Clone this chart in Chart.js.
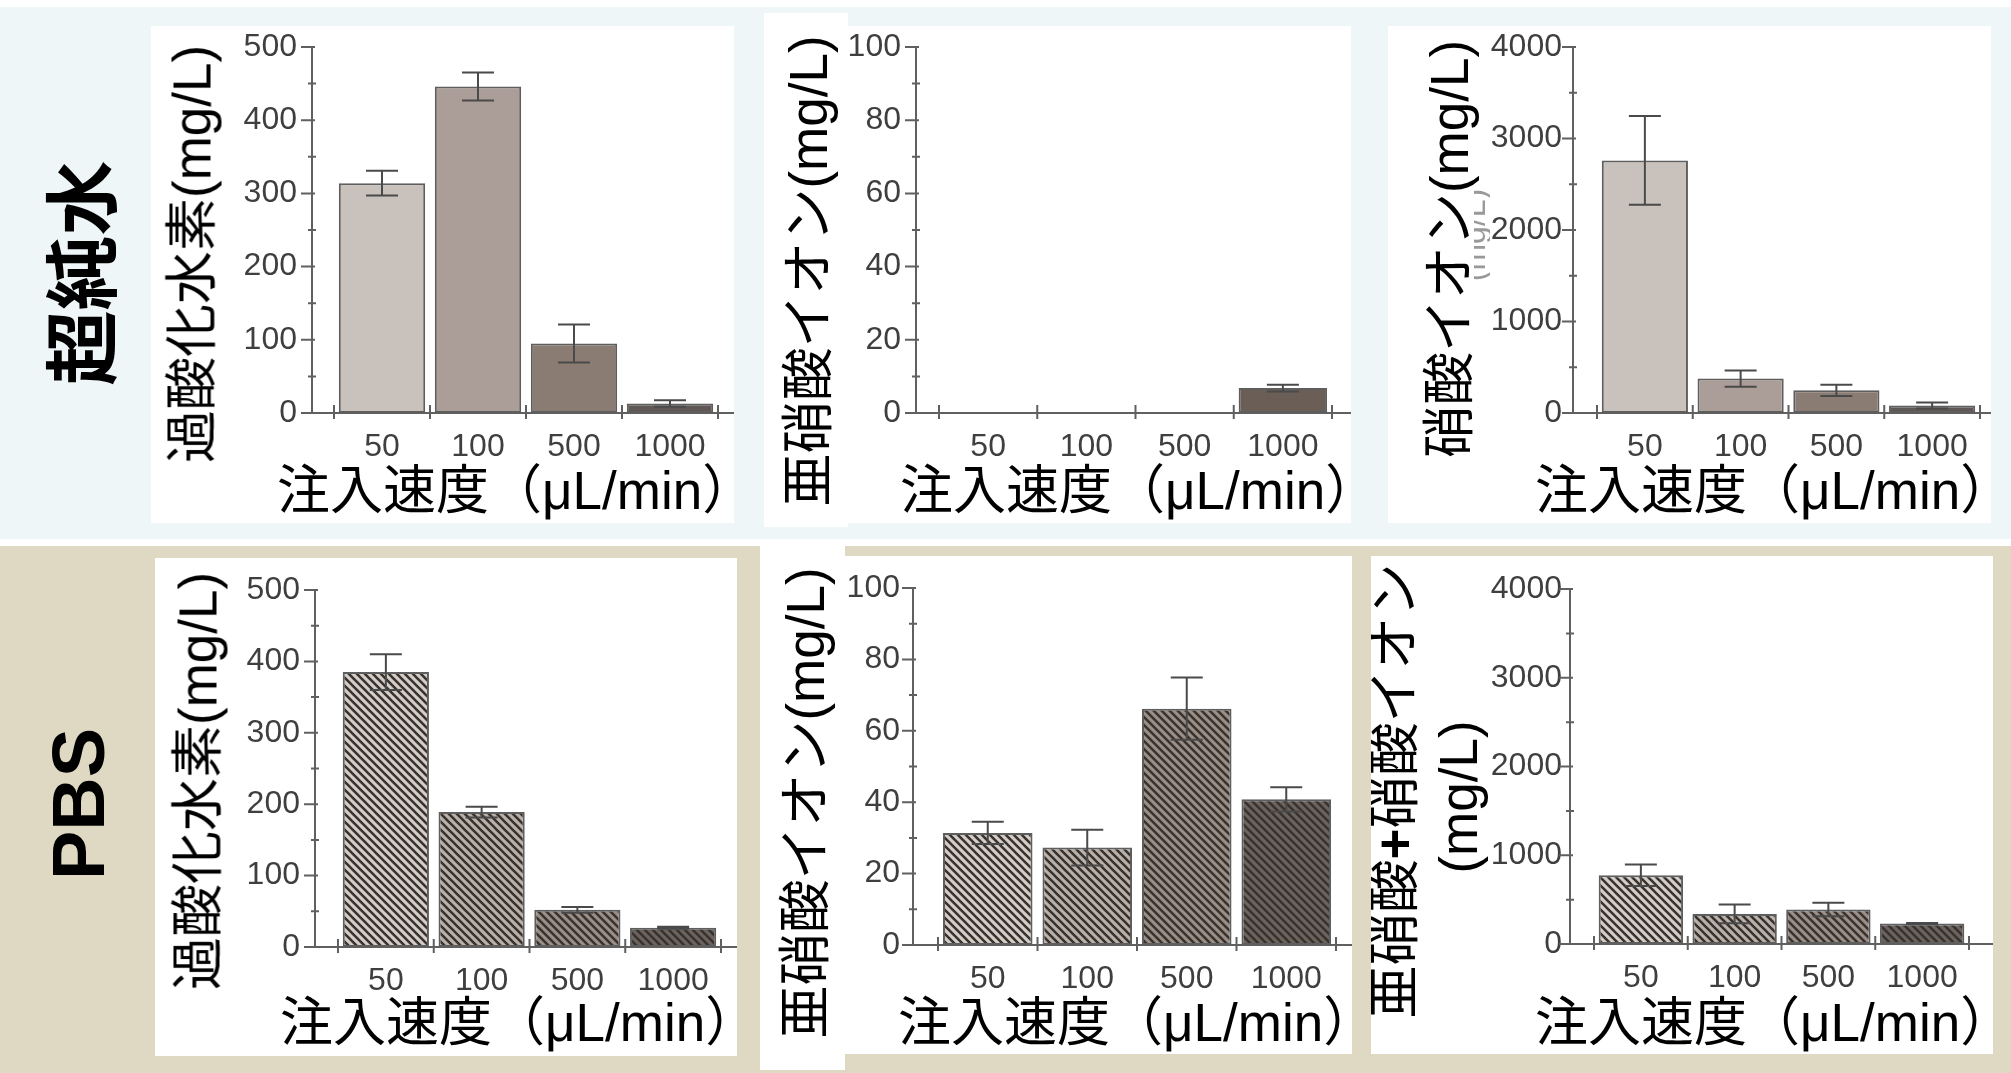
<!DOCTYPE html>
<html lang="ja">
<head>
<meta charset="utf-8">
<title>注入速度と生成濃度</title>
<script src="https://cdn.jsdelivr.net/npm/chart.js@4.4.1/dist/chart.umd.min.js"></script>
<style>
  html, body { margin: 0; padding: 0; }
  body { width: 2011px; height: 1073px; position: relative; overflow: hidden; background: #fff;
         font-family: "Liberation Sans", "Noto Sans CJK JP", sans-serif; }
  .bg, .box, canvas, .lbl, .clip { position: absolute; }
  .box { background: #fff; }
  .clip { overflow: hidden; }
  .lbl { white-space: nowrap; line-height: 1; color: #000; font-size: 53px; }
  .rot { transform: translate(-50%, -50%) rotate(-90deg); }
  .hx { transform: translateY(-50%); }
</style>
</head>
<body>
<div class="bg" style="left:0;top:7px;width:2011px;height:532px;background:#eef6f8"></div>
<div class="bg" style="left:0;top:546px;width:2011px;height:527px;background:#dfd9c4"></div>

<div class="box" style="left:151px;top:26px;width:583px;height:497px"></div>
<div class="box" style="left:764px;top:13px;width:84px;height:514px"></div>
<div class="box" style="left:848px;top:26px;width:503px;height:497px"></div>
<div class="box" style="left:1388px;top:26px;width:603px;height:497px"></div>
<div class="box" style="left:155px;top:558px;width:582px;height:498px"></div>
<div class="box" style="left:760px;top:546px;width:85px;height:524px"></div>
<div class="box" style="left:845px;top:556px;width:507px;height:498px"></div>
<div class="box" style="left:1371px;top:556px;width:622px;height:498px"></div>

<canvas id="c1" width="583" height="460" style="left:151px;top:20px"></canvas>
<canvas id="c2" width="521" height="460" style="left:830px;top:20px"></canvas>
<canvas id="c3" width="603" height="460" style="left:1388px;top:20px"></canvas>
<canvas id="c4" width="582" height="460" style="left:155px;top:552px"></canvas>
<canvas id="c5" width="525" height="460" style="left:827px;top:552px"></canvas>
<canvas id="c6" width="622" height="460" style="left:1371px;top:552px"></canvas>

<div class="lbl rot" style="left:77px;top:273px;font:700 75px 'Noto Sans CJK JP'">超純水</div>
<div class="lbl rot" style="left:78px;top:804px;font:700 74px 'Liberation Sans'">PBS</div>

<div class="lbl rot" style="left:192px;top:254px">過酸化水素(mg/L)</div>
<div class="lbl rot" style="left:808px;top:271px">亜硝酸イオン(mg/L)</div>
<div class="lbl rot" style="left:1474px;top:235px;font-size:32px;color:#999;clip-path:inset(50% 0 0 0)">(mg/L)</div>
<div class="lbl rot" style="left:1449px;top:249px">硝酸イオン(mg/L)</div>
<div class="lbl rot" style="left:198px;top:781px">過酸化水素(mg/L)</div>
<div class="lbl rot" style="left:805px;top:803px">亜硝酸イオン(mg/L)</div>
<div class="clip" style="left:1371px;top:556px;width:622px;height:498px">
  <div class="lbl rot" style="left:23px;top:235px">亜硝酸<b>+</b>硝酸イオン</div>
</div>
<div class="lbl rot" style="left:1458px;top:797px">(mg/L)</div>

<div class="lbl hx" style="left:277px;top:490px">注入速度（μL/min）</div>
<div class="lbl hx" style="left:900px;top:490px">注入速度（μL/min）</div>
<div class="lbl hx" style="left:1535px;top:490px">注入速度（μL/min）</div>
<div class="lbl hx" style="left:280px;top:1022px">注入速度（μL/min）</div>
<div class="lbl hx" style="left:898px;top:1022px">注入速度（μL/min）</div>
<div class="lbl hx" style="left:1535px;top:1022px">注入速度（μL/min）</div>

<script>
// 注入速度 (μL/min)
const speeds = ['50', '100', '500', '1000'];

// 超純水
const h2o2Water = [314, 446, 95, 13];
const h2o2WaterErr = [17, 19, 26, 4.5];
const no2Water = [0.2, 0, 0, 6.8];
const no2WaterErr = [0, 0, 0, 0.9];
const no3Water = [2760, 376, 248, 82];
const no3WaterErr = [485, 88, 62, 32];

// PBS
const h2o2Pbs = [385, 189, 52, 27];
const h2o2PbsErr = [25, 7.5, 4, 1.5];
const no2Pbs = [31.4, 27.3, 66.2, 40.8];
const no2PbsErr = [3.1, 5, 8.7, 3.4];
const noxPbs = [775, 339, 389, 230];
const noxPbsErr = [122, 105, 77, 8];

// y軸の目盛
const ticksH2o2 = [0, 100, 200, 300, 400, 500];
const ticksNo2 = [0, 20, 40, 60, 80, 100];
const ticksNo3 = [0, 1000, 2000, 3000, 4000];

const solidColors = ['#c9c1bb', '#ab9d97', '#8b7c73', '#5f5854'];
const hatchBase = ['#d4cdc8', '#bbb1ab', '#9b8e86', '#6c635e'];

function hatch(base) {
  const c = document.createElement('canvas');
  c.width = 8; c.height = 8;
  const g = c.getContext('2d');
  g.fillStyle = base;
  g.fillRect(0, 0, 8, 8);
  g.strokeStyle = '#38332f';
  g.lineWidth = 2.6;
  g.beginPath();
  g.moveTo(0, 0); g.lineTo(8, 8);
  g.moveTo(-2, 6); g.lineTo(2, 10);
  g.moveTo(6, -2); g.lineTo(10, 2);
  g.stroke();
  return g.createPattern(c, 'repeat');
}
const hatchColors = hatchBase.map(hatch);

// 軸線と目盛線（y軸はカテゴリ領域の少し左に立つ）
const axisLines = {
  id: 'axisLines',
  beforeDatasetsDraw(chart, args, opts) {
    const ctx = chart.ctx;
    const x = chart.scales.x, y = chart.scales.y;
    const ax = opts.axisX;
    const y0 = y.getPixelForValue(0);
    const yTop = y.getPixelForValue(y.max);
    ctx.save();
    ctx.strokeStyle = '#606060';
    ctx.lineWidth = 2;
    ctx.beginPath();
    ctx.moveTo(ax, yTop);
    ctx.lineTo(ax, y0);
    ctx.lineTo(chart.width, y0);
    const vals = y.ticks.map(t => t.value);
    vals.forEach((v, i) => {
      const py = y.getPixelForValue(v);
      ctx.moveTo(ax - 11, py); ctx.lineTo(ax + 3, py);
      if (i < vals.length - 1) {
        const pm = y.getPixelForValue((v + vals[i + 1]) / 2);
        ctx.moveTo(ax - 4, pm); ctx.lineTo(ax + 4, pm);
      }
    });
    for (let i = 0; i <= speeds.length; i++) {
      const px = x.getPixelForValue(i - 0.5);
      ctx.moveTo(px, y0 - 8); ctx.lineTo(px, y0 + 6);
    }
    ctx.stroke();
    ctx.restore();
  }
};

const errorBars = {
  id: 'errorBars',
  afterDatasetsDraw(chart) {
    const ds = chart.data.datasets[0];
    const y = chart.scales.y;
    const ctx = chart.ctx;
    ctx.save();
    ctx.strokeStyle = '#4a4a4a';
    ctx.lineWidth = 2;
    chart.getDatasetMeta(0).data.forEach((bar, i) => {
      const e = ds.errors[i];
      if (!e) return;
      const v = ds.data[i];
      const t = y.getPixelForValue(v + e), b = y.getPixelForValue(v - e);
      ctx.beginPath();
      ctx.moveTo(bar.x, t); ctx.lineTo(bar.x, b);
      ctx.moveTo(bar.x - 16, t); ctx.lineTo(bar.x + 16, t);
      ctx.moveTo(bar.x - 16, b); ctx.lineTo(bar.x + 16, b);
      ctx.stroke();
    });
    ctx.restore();
  }
};

const tickFont = { family: '"Liberation Sans", Arial, sans-serif', size: 32, lineHeight: 1 };

function makeChart(id, p) {
  new Chart(document.getElementById(id), {
    type: 'bar',
    data: {
      labels: speeds,
      datasets: [{
        data: p.values,
        errors: p.errors,
        backgroundColor: p.colors,
        borderColor: '#5e5e5e',
        borderWidth: 2,
        borderSkipped: false,
        barPercentage: 0.9,
        categoryPercentage: 1
      }]
    },
    options: {
      responsive: false,
      animation: false,
      devicePixelRatio: 1,
      layout: { padding: { left: 0, top: p.padTop, right: p.padRight, bottom: 0 } },
      plugins: {
        legend: { display: false },
        tooltip: { enabled: false },
        axisLines: { axisX: p.axisX }
      },
      scales: {
        x: {
          // 目盛線は自前で描くので、tickLength は文字位置のずらしにだけ使う
          grid: { display: false, drawTicks: true, tickLength: 16 },
          border: { display: false },
          ticks: { color: '#3f3f3f', font: tickFont, padding: 2, maxRotation: 0, autoSkip: false },
          afterFit: s => { s.height = p.xH; }
        },
        y: {
          min: 0,
          max: p.ticks[p.ticks.length - 1],
          grid: { display: false, drawTicks: true, tickLength: p.yPad - 2 },
          border: { display: false },
          ticks: { color: '#3f3f3f', font: tickFont, padding: 2, callback: v => String(v) },
          afterBuildTicks: s => { s.ticks = p.ticks.map(v => ({ value: v })); },
          afterFit: s => { s.width = p.yW; }
        }
      }
    },
    plugins: [axisLines, errorBars]
  });
}

makeChart('c1', { values: h2o2Water, errors: h2o2WaterErr, ticks: ticksH2o2, colors: solidColors,
  padTop: 27, padRight: 16, yW: 183, xH: 67, axisX: 161, yPad: 37 });
makeChart('c2', { values: no2Water, errors: no2WaterErr, ticks: ticksNo2, colors: ['#8b7c73', '#8b7c73', '#8b7c73', '#6b5e56'],
  padTop: 27, padRight: 19, yW: 109, xH: 67, axisX: 86, yPad: 38 });
makeChart('c3', { values: no3Water, errors: no3WaterErr, ticks: ticksNo3, colors: solidColors,
  padTop: 27, padRight: 11, yW: 209, xH: 67, axisX: 185, yPad: 35 });
makeChart('c4', { values: h2o2Pbs, errors: h2o2PbsErr, ticks: ticksH2o2, colors: hatchColors,
  padTop: 38, padRight: 16, yW: 183, xH: 65, axisX: 160, yPad: 38 });
makeChart('c5', { values: no2Pbs, errors: no2PbsErr, ticks: ticksNo2, colors: hatchColors,
  padTop: 36, padRight: 16, yW: 111, xH: 67, axisX: 86, yPad: 38 });
makeChart('c6', { values: noxPbs, errors: noxPbsErr, ticks: ticksNo3, colors: hatchColors,
  padTop: 37, padRight: 24, yW: 223, xH: 68, axisX: 199, yPad: 32 });
</script>
</body>
</html>
